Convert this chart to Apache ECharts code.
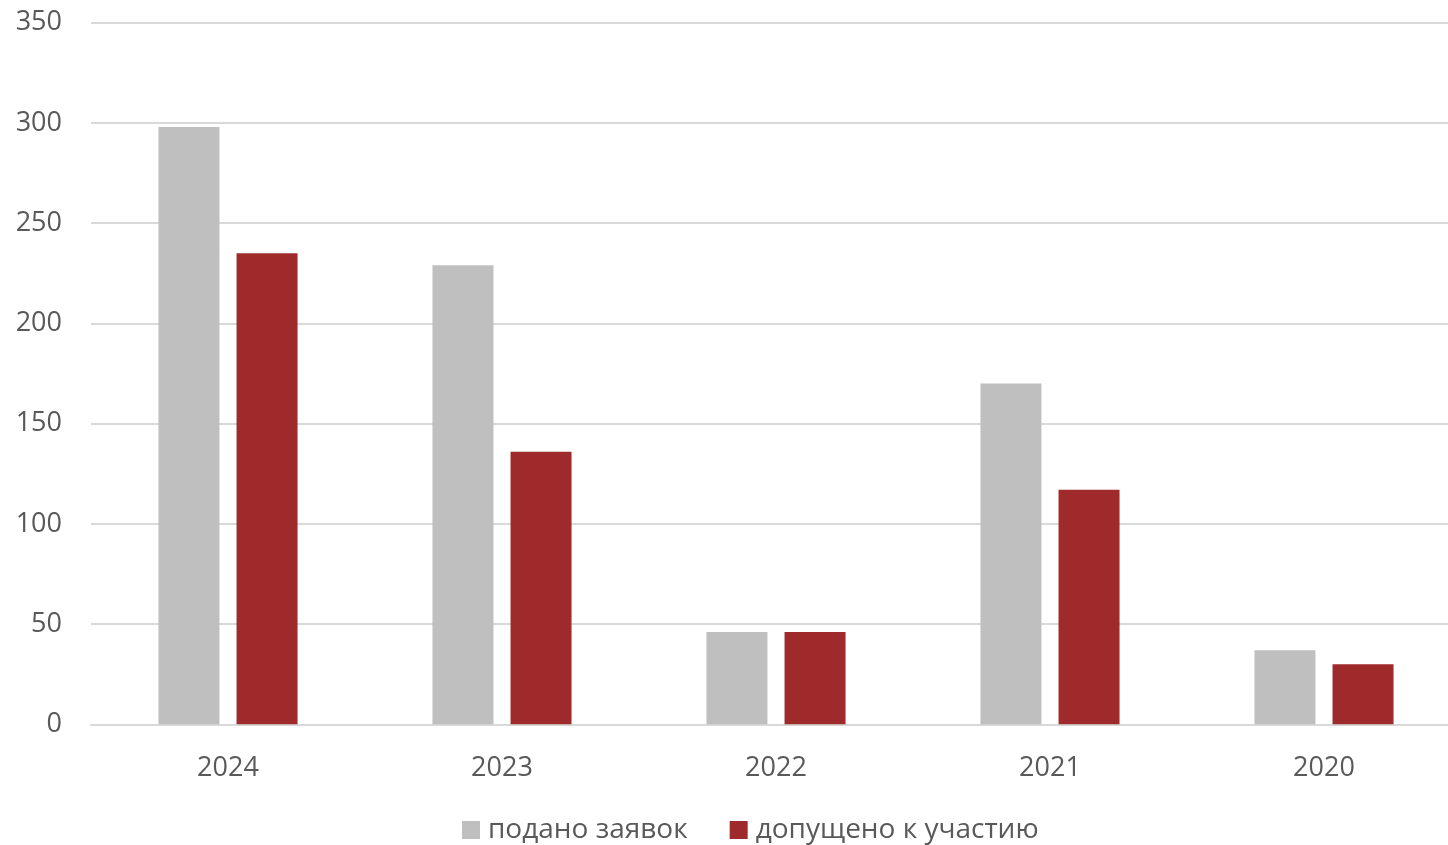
<!DOCTYPE html>
<html><head><meta charset="utf-8">
<script src="https://cdn.jsdelivr.net/npm/echarts@6/dist/echarts.min.js"></script>
<style>html,body{margin:0;padding:0;background:#fff;overflow:hidden;width:1448px;height:845px}#c{width:1461px;height:845px}</style>
</head><body><div id="c"></div>
<script>
const categories = ['2024', '2023', '2022', '2021', '2020'];
const submitted = [298, 229, 46, 170, 37];
const admitted = [235, 136, 46, 117, 30];
const seriesNames = ['подано заявок', 'допущено к участию'];
const yTicks = {min: 0, max: 350, interval: 50};

const FONT = '"Open Sans", sans-serif';
const chart = echarts.init(document.getElementById('c'), null, {renderer: 'canvas'});
chart.setOption({
  animation: false,
  backgroundColor: '#ffffff',
  grid: {left: 91, right: 0, top: 22.7, bottom: 120.7, containLabel: false},
  legend: {
    bottom: -4, left: 457,
    itemWidth: 18, itemHeight: 18, itemGap: 42,
    icon: 'rect',
    textStyle: {fontFamily: FONT, fontSize: 28, color: '#595959', padding: [0, 0, 0, 3]},
    data: seriesNames
  },
  xAxis: {
    type: 'category', data: categories,
    axisLine: {show: true, lineStyle: {color: '#D9D9D9', width: 2}},
    axisTick: {show: false},
    axisLabel: {fontFamily: FONT, fontSize: 27, color: '#595959', margin: 31}
  },
  yAxis: {
    type: 'value', min: yTicks.min, max: yTicks.max, interval: yTicks.interval,
    axisLine: {show: false}, axisTick: {show: false},
    splitLine: {lineStyle: {color: '#D9D9D9', width: 2}},
    axisLabel: {fontFamily: FONT, fontSize: 27, color: '#595959', margin: 29, padding: [4, 0, 0, 0]}
  },
  series: [
    {name: seriesNames[0], type: 'bar', data: submitted, barWidth: 61, barGap: '28%',
     itemStyle: {color: '#BFBFBF'}},
    {name: seriesNames[1], type: 'bar', data: admitted, barWidth: 61,
     itemStyle: {color: '#9E2A2B'}}
  ]
});
</script></body></html>
